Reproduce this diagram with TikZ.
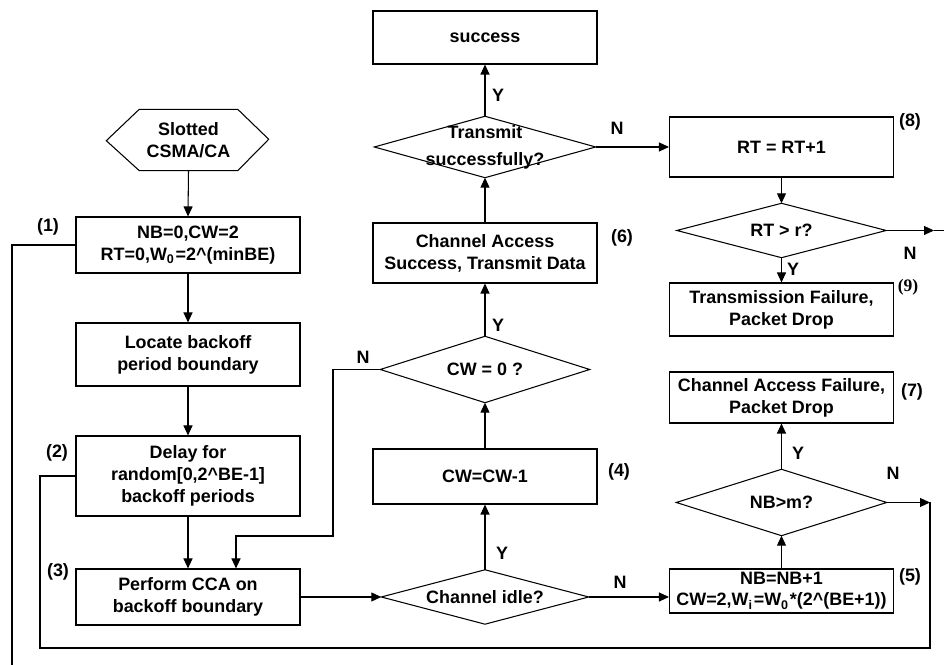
\documentclass[tikz,border=0pt]{standalone}
\usepackage{fontspec}
\setmainfont{Liberation Sans}
\newfontfamily\numserif{Liberation Serif}
\usetikzlibrary{arrows.meta}
\newcommand{\boxfont}{\fontsize{5.1}{6.3}\selectfont\bfseries}
\newcommand{\tightfont}{\fontsize{5.1}{6.0}\selectfont\bfseries}
\newcommand{\tagfont}{\fontsize{5.1}{6.1}\selectfont\bfseries}
\newcommand{\tagseriffont}{\numserif\fontsize{5.0}{6.0}\selectfont\bfseries}
\tikzset{
  flowline/.style={line width=0.3pt},
  flowarrow/.style={flowline,-{Triangle[length=1.0mm,width=0.9mm]}},
  procbox/.style={draw,line width=0.3pt,minimum width=22.4mm,inner sep=0pt,align=center,font=\boxfont},
  tag/.style={inner sep=0pt,font=\tagfont},
}
\newcommand{\decide}[6]{%
  \node[inner sep=0pt,minimum width=#4mm,minimum height=#5mm,align=center,font=\boxfont] (#1) at (#2,#3) {#6};
  \draw[flowline] (#1.north) -- (#1.east) -- (#1.south) -- (#1.west) -- cycle;
}
\begin{document}
\begin{tikzpicture}[x=1mm,y=1mm]
  \useasboundingbox (0,0) rectangle (94.4,66.5);

  \node[inner sep=0pt,minimum width=9.7mm,minimum height=6mm,align=center,font=\boxfont] (start) at (18.85,52.5) {Slotted\\CSMA/CA};
  \draw[flowline] (start.north west) -- (start.north east) -- ++(3.1,-3) -- (start.south east)
    -- (start.south west) -- ++(-3.3,3) -- cycle;
  \node[procbox,minimum height=5.6mm] (init) at (18.8,42.0) {NB=0,CW=2\\RT=0,W\textsubscript{0}=2\textasciicircum(minBE)};
  \node[procbox,minimum height=6.3mm] (locate) at (18.8,31.05) {Locate backoff\\period boundary};
  \node[procbox,minimum height=8.0mm] (delay) at (18.8,18.9) {Delay for\\random[0,2\textasciicircum BE-1]\\backoff periods};
  \node[procbox,minimum height=5.6mm] (cca) at (18.8,6.8) {Perform CCA on\\backoff boundary};

  \node[procbox,minimum height=5.3mm] (success) at (48.5,62.75) {success};
  \decide{txchk}{48.5}{51.8}{22}{6}{Transmit\\[0.5mm]successfully?}
  \node[procbox,minimum height=6mm] (access) at (48.5,41.2) {Channel Access\\Success, Transmit Data};
  \decide{cwchk}{48.5}{29.55}{20.8}{6.5}{CW = 0 ?}
  \node[procbox,minimum height=5.5mm] (cwdec) at (48.5,18.85) {CW=CW-1};
  \decide{idle}{48.5}{6.8}{20.6}{5.3}{Channel idle?}

  \node[procbox,minimum height=6mm] (rtinc) at (78.15,51.8) {RT = RT+1};
  \decide{rtchk}{78.15}{43.45}{20.8}{5.3}{RT > r?}
  \node[procbox,minimum height=5.3mm] (txfail) at (78.15,35.55) {Transmission Failure,\\Packet Drop};
  \node[procbox,minimum height=5.1mm] (cafail) at (78.15,26.75) {Channel Access Failure,\\Packet Drop};
  \decide{nbchk}{78.15}{16.25}{20.9}{6.5}{NB>m?}
  \node[procbox,minimum height=4.4mm,font=\tightfont] (nbinc) at (78.15,7.4) {NB=NB+1\\CW=2,W\textsubscript{i}=W\textsubscript{0}*(2\textasciicircum(BE+1))};

  \coordinate (nbturn) at (93.0,16.25);
  \coordinate (loopbot) at (4.0,1.7);
  \coordinate (cwturn) at (33.3,12.9);
  \coordinate (initdown) at (1.2,0);
  \coordinate (rtout) at (93.4,43.45);
  \coordinate (rtedge) at (94.4,43.45);

  \draw[flowarrow] (start.south) -- (init.north);
  \draw[flowarrow] (init.south) -- (locate.north);
  \draw[flowarrow] (locate.south) -- (delay.north);
  \draw[flowarrow] (delay.south) -- (cca.north);
  \draw[flowarrow] (cca.east) -- (idle.west);
  \draw[flowarrow] (idle.north) -- (cwdec.south);
  \draw[flowarrow] (cwdec.north) -- (cwchk.south);
  \draw[flowarrow] (cwchk.north) -- (access.south);
  \draw[flowarrow] (access.north) -- (txchk.south);
  \draw[flowarrow] (txchk.north) -- (success.south);
  \draw[flowarrow] (txchk.east) -- (rtinc.west);
  \draw[flowarrow] (rtinc.south) -- (rtchk.north);
  \draw[flowarrow] (rtchk.south) -- (txfail.north);
  \draw[flowarrow] (rtchk.east) -- (rtout);
  \draw[flowline] (rtout) -- (rtedge);
  \draw[flowarrow] (idle.east) -- (idle.east -| nbinc.west);
  \draw[flowarrow] (nbinc.north) -- (nbchk.south);
  \draw[flowarrow] (nbchk.north) -- (cafail.south);
  \draw[flowarrow] (nbchk.east) -- (nbturn);
  \draw[flowline] (nbturn) |- (loopbot) |- (delay.west);
  \draw[flowarrow] (cwchk.west) -| (cwturn) -| ([xshift=4.8mm]cca.north);
  \draw[flowline] (init.west) -| (initdown);

  \node[tag] (tag1) at (4.8,43.8) {(1)};
  \node[tag] (tag2) at (5.7,21.2) {(2)};
  \node[tag] (tag3) at (5.8,9.3) {(3)};
  \node[tag] (tag4) at (61.9,19.3) {(4)};
  \node[tag] (tag5) at (91.0,8.8) {(5)};
  \node[tag] (tag6) at (62.2,42.7) {(6)};
  \node[tag] (tag7) at (91.2,27.3) {(7)};
  \node[tag] (tag8) at (91.0,54.3) {(8)};
  \node[tag,font=\tagseriffont] (tag9) at (90.8,37.8) {(9)};

  \node[tag] (txyes) at (49.8,57.0) {Y};
  \node[tag] (txno) at (61.7,53.7) {N};
  \node[tag] (rtno) at (91.0,41.2) {N};
  \node[tag] (rtyes) at (79.3,39.6) {Y};
  \node[tag] (nbyes) at (79.8,21.2) {Y};
  \node[tag] (nbno) at (89.3,19.2) {N};
  \node[tag] (cwyes) at (49.8,34.0) {Y};
  \node[tag] (cwno) at (36.3,30.8) {N};
  \node[tag] (idleyes) at (50.2,11.2) {Y};
  \node[tag] (idleno) at (62.0,8.3) {N};
\end{tikzpicture}
\end{document}
